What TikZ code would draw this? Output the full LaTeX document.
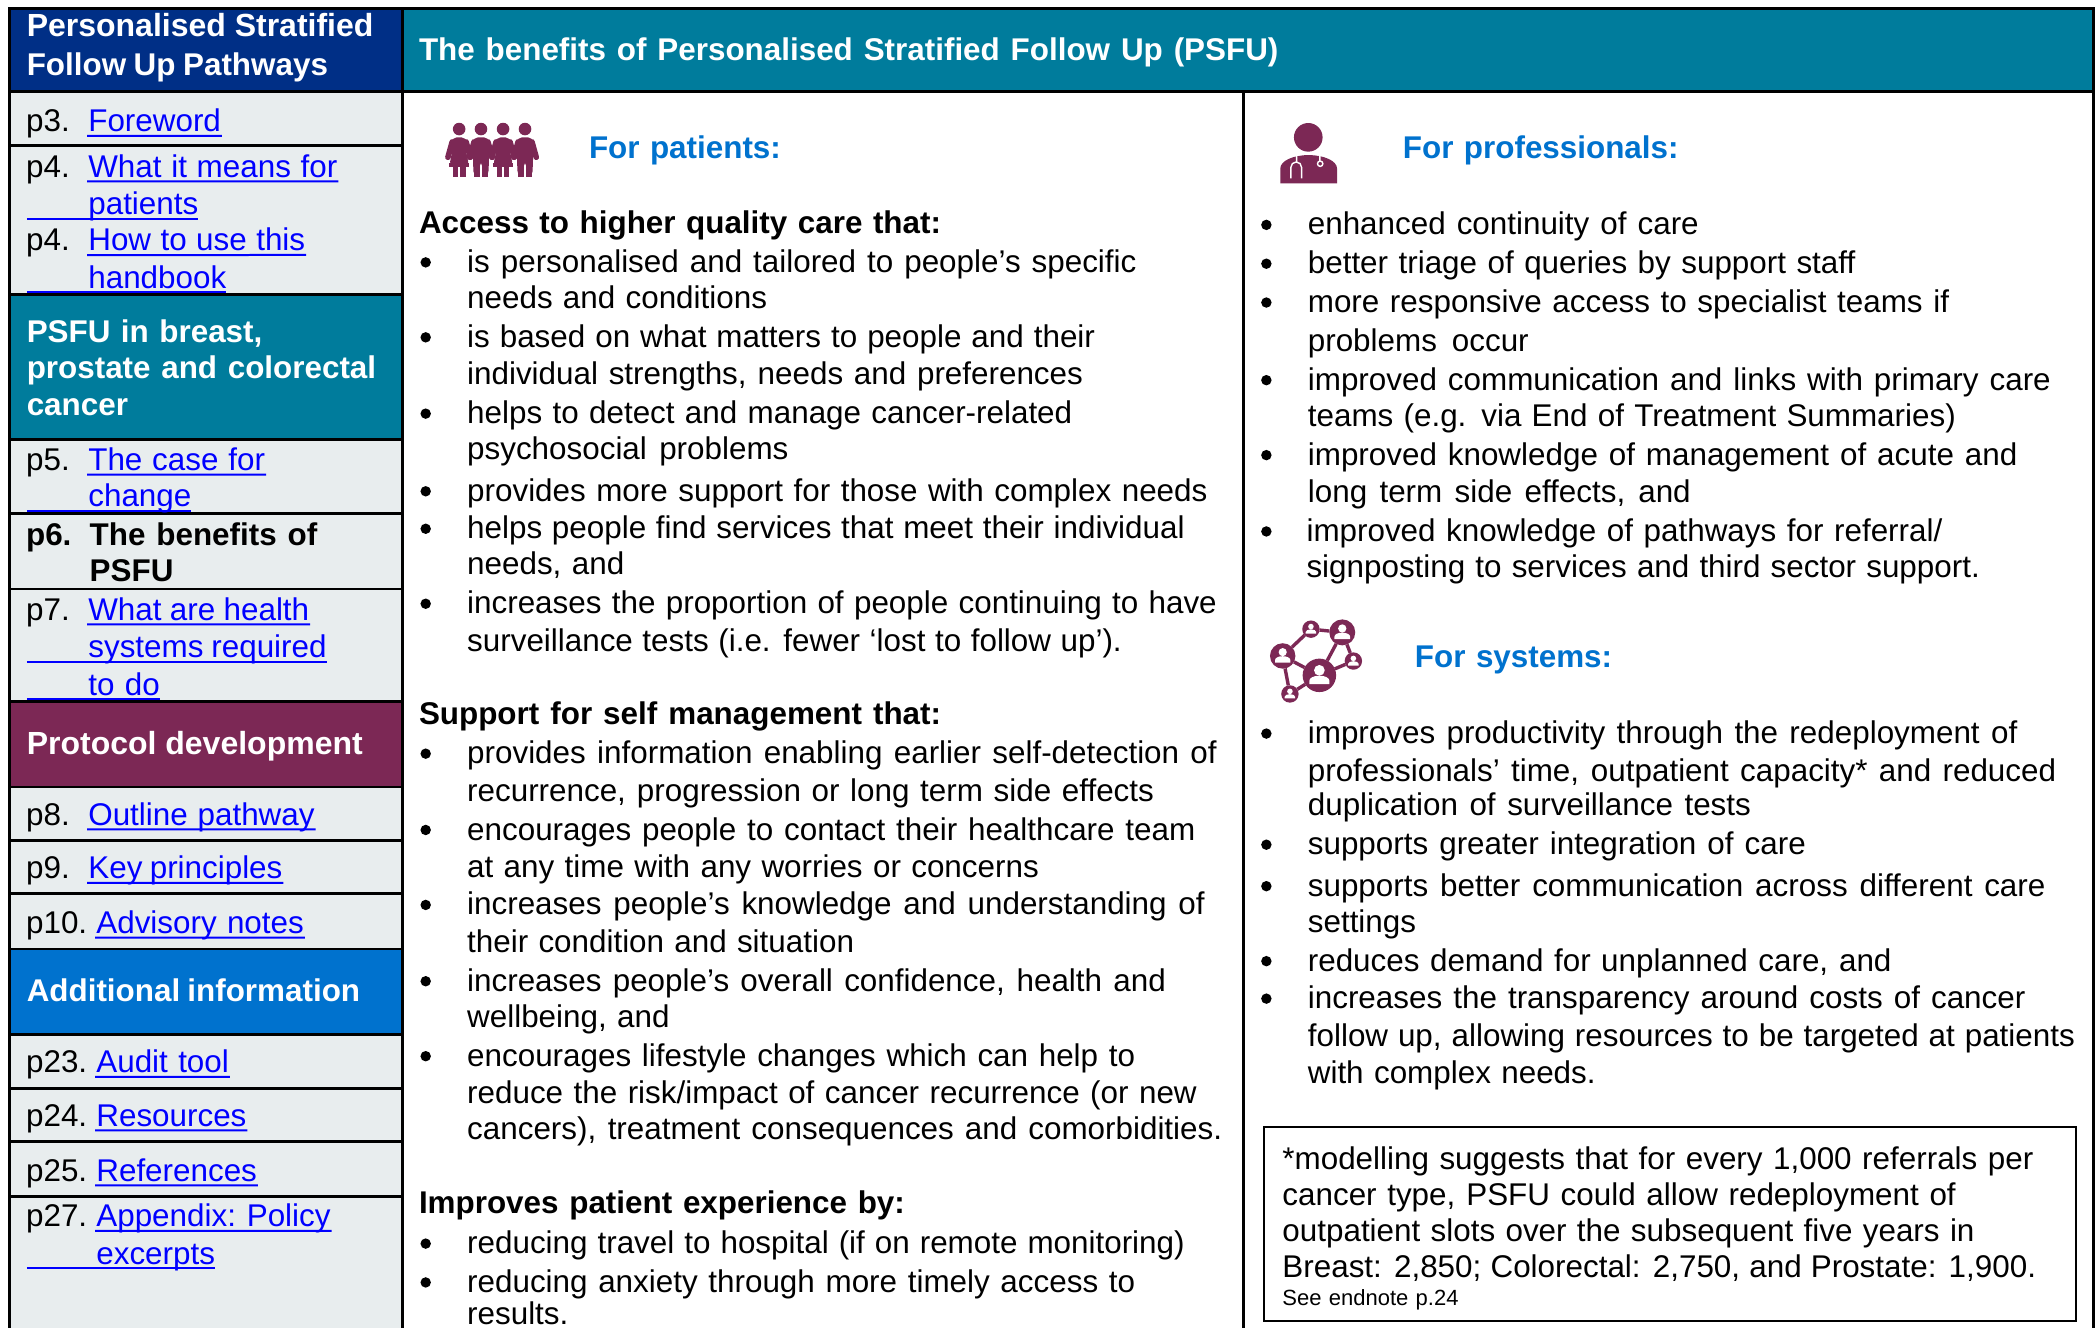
\documentclass[tikz,border=0pt]{standalone}
\usepackage{fontspec}
\setmainfont{Liberation Sans}[WordSpace=1.2]
\definecolor{navy}{HTML}{002F86}
\definecolor{teal}{HTML}{007C9C}
\definecolor{maroon}{HTML}{7C2855}
\definecolor{headblue}{HTML}{0072CE}
\definecolor{side}{HTML}{E8EDEE}
\definecolor{linkblue}{HTML}{0000FF}
\newcounter{tn}
\tikzset{
  txt/.style={anchor=base west,inner sep=0pt,outer sep=0pt,font=\fontsize{15.7}{18}\selectfont,text=black},
  bold/.style={txt,font=\fontsize{15.7}{18}\selectfont\bfseries},
  whead/.style={bold,text=white},
  wheadw/.style={whead,font=\fontsize{16}{18}\selectfont\bfseries},
  bhead/.style={bold,text=headblue},
  linktext/.style={txt,text=linkblue},
  smalltxt/.style={txt,font=\fontsize{11}{12}\selectfont},
  uline/.style={draw=linkblue,line width=1pt},
  rule/.style={draw=black,line width=1.35pt},
  netn/.style={circle,fill=maroon,draw=none,inner sep=0pt,outer sep=0pt},
  netl/.style={draw=maroon,line width=1.7pt},
}
% a line fitted between two x positions by stretching its word spaces
\newcommand\fitb[3]{\pgfmathsetlengthmacro\fitwd{(#2-#1)*0.66935pt}\spaceskip=0.3em plus 1fil minus 1fil\relax\hbox to \fitwd{#3}}
\newcommand\tl[4][txt]{\stepcounter{tn}\node[#1] (t\arabic{tn}) at (#2,#3+8.5) {#4};}
\newcommand\tw[5][txt]{\tl[#1]{#2}{#3}{\fitb{#2}{#4}{#5}}}
\newcommand\bl[2]{\fill (#1,#2+1) circle (3.9);}
% link, underlined from its own start
\newcommand\lk[3]{\stepcounter{tn}\node[linktext] (t\arabic{tn}) at (#1,#2+8.5) {#3};
  \draw[uline] (t\arabic{tn}.base west)+(-1,3) -- ([xshift=0.5pt,yshift=-2pt]t\arabic{tn}.base east);}
% continuation link, underline starts at the tab of the label
\newcommand\lkc[3]{\stepcounter{tn}\node[linktext] (t\arabic{tn}) at (#1,#2+8.5) {#3};
  \coordinate (u\arabic{tn}) at (20,#2+11.5);
  \draw[uline] (u\arabic{tn}) -- (u\arabic{tn}-|t\arabic{tn}.base east);}
\newcommand\netp[3]{\fill[white] (#1,#2-0.3*#3) circle ({0.32*#3});
  \fill[white] (#1-0.6*#3,#2+0.52*#3) -- (#1-0.6*#3,#2+0.32*#3) arc[start angle=180,end angle=360,x radius=0.6*#3,y radius=0.3*#3] -- (#1+0.6*#3,#2+0.52*#3) -- cycle;}
\newcommand\man[1]{
  \fill[maroon] (#1,96.4) circle (4.7);
  \fill[maroon,rounded corners=2.5] (#1-6,102.6) -- (#1+6,102.6) -- (#1+6,120) -- (#1+5.4,132) -- (#1+0.8,132) -- (#1+0.8,120) -- (#1-0.8,120) -- (#1-0.8,132) -- (#1-5.4,132) -- (#1-6,120) -- cycle;
  \fill[maroon] (#1-5.4,120) rectangle (#1-0.8,132); \fill[maroon] (#1+0.8,120) rectangle (#1+5.4,132);
  \draw[maroon,line width=2.8pt,line cap=round] (#1-5.2,106) -- (#1-8.4,117.5);
  \draw[maroon,line width=2.8pt,line cap=round] (#1+5.2,106) -- (#1+8.4,117.5);}
\newcommand\woman[1]{
  \fill[maroon] (#1,96.4) circle (4.7);
  \fill[maroon,rounded corners=2.5] (#1-5.5,102.6) -- (#1+5.5,102.6) -- (#1+5,112) -- (#1+7.5,124.5) -- (#1-7.5,124.5) -- (#1-5,112) -- cycle;
  \fill[maroon] (#1-7.5,122) -- (#1+7.5,122) -- (#1+7.5,124.5) -- (#1-7.5,124.5) -- cycle;
  \fill[maroon] (#1-4.8,124) rectangle (#1-0.9,132); \fill[maroon] (#1+0.9,124) rectangle (#1+4.8,132);
  \draw[maroon,line width=2.8pt,line cap=round] (#1-5.2,106) -- (#1-8.4,117.5);
  \draw[maroon,line width=2.8pt,line cap=round] (#1+5.2,106) -- (#1+8.4,117.5);}
\begin{document}
\begin{tikzpicture}[x=0.66935pt,y=-0.66935pt]
\useasboundingbox (0,0) rectangle (1568,992);
\fill[white] (0,0) rectangle (1568,992);
\clip (0,0) rectangle (1568,992);
% fills
\fill[side] (7.3,68) rectangle (300.8,992);
\fill[navy] (7.3,6.5) rectangle (300.8,68.2);
\fill[teal] (300.8,6.5) rectangle (1564,68.2);
\fill[teal] (7.3,219.9) rectangle (300.8,328.2);
\fill[maroon] (7.3,524) rectangle (300.8,588);
\fill[headblue] (7.3,709) rectangle (300.8,772.8);
% rules
\draw[rule] (7.3,992) -- (7.3,6.5) -- (1564,6.5) -- (1564,992);
\draw[rule] (7.3,68.2) -- (1564,68.2);
\draw[rule] (300.8,6.5) -- (300.8,992);
\draw[rule] (929,68.2) -- (929,992);
\foreach \yy in {108.8,219.9,328.2,383.5,440,524,588,628,667.5,709,772.8,813,852.6,893.7}
  \draw[rule] (7.3,\yy) -- (300.8,\yy);
% sidebar
\tw[wheadw]{20}{19}{279}{Personalised Stratified}
\tw[whead]{20}{48}{245}{Follow Up Pathways}
\tw[whead]{313}{37}{955}{The benefits of Personalised Stratified Follow Up (PSFU)}
\tl{19.5}{90}{p3.}\lk{66}{90}{Foreword}
\tl{19.5}{124}{p4.}\lk{66}{124}{\fitb{66}{252}{What it means for}}
\lkc{66}{152}{patients}
\tl{19.5}{179}{p4.}\lk{66}{179}{\fitb{66}{228}{How to use this}}
\lkc{66}{207}{handbook}
\tw[whead]{20}{247}{196}{PSFU in breast,}
\tw[whead]{20}{274}{281}{prostate and colorectal}
\tl[whead]{20}{302}{cancer}
\tl{19.5}{343}{p5.}\lk{66}{343}{\fitb{66}{198}{The case for}}
\lkc{66}{370}{change}
\tl[bold]{19.5}{399}{p6.}\tw[bold]{67}{399}{237}{The benefits of}
\tl[bold]{67}{426}{PSFU}
\tl{19.5}{455}{p7.}\lk{66}{455}{\fitb{66}{231}{What are health}}
\lkc{66}{483}{\fitb{66}{244}{systems required}}
\lkc{66}{511}{to do}
\tw[wheadw]{20}{555}{271}{Protocol development}
\tl{19.5}{608}{p8.}\lk{66}{608}{\fitb{66}{235}{Outline pathway}}
\tl{19.5}{648}{p9.}\lk{66}{648}{\fitb{66}{211}{Key principles}}
\tl{19.5}{689}{p10.}\lk{72}{689}{\fitb{72}{227}{Advisory notes}}
\tw[whead]{20}{740}{269}{Additional information}
\tl{19.5}{793}{p23.}\lk{72}{793}{\fitb{72}{171}{Audit tool}}
\tl{19.5}{833}{p24.}\lk{72}{833}{Resources}
\tl{19.5}{874}{p25.}\lk{72}{874}{References}
\tl{19.5}{908}{p27.}\lk{72}{908}{\fitb{72}{247}{Appendix: Policy}}
\lkc{72}{936}{excerpts}
% patients column
\woman{343}\man{359.3}\woman{375.8}\man{392.2}
\tl[bhead]{440}{110}{For patients:}
\tw[bold]{313}{166}{703}{Access to higher quality care that:}
\bl{318}{195}\tw{349}{195}{849}{is personalised and tailored to people’s specific}
\tw{349}{222}{573}{needs and conditions}
\bl{318}{251}\tw{349}{251}{818}{is based on what matters to people and their}
\tw{349}{279}{809}{individual strengths, needs and preferences}
\bl{318}{308}\tw{349}{308}{801}{helps to detect and manage cancer-related}
\tw{349}{335}{589}{psychosocial problems}
\bl{318}{366}\tw{349}{366}{902}{provides more support for those with complex needs}
\bl{318}{394}\tw{349}{394}{885}{helps people find services that meet their individual}
\tl{349}{421}{needs, and}
\bl{318}{450}\tw{349}{450}{909}{increases the proportion of people continuing to have}
\tw{349}{478}{838}{surveillance tests (i.e. fewer ‘lost to follow up’).}
\tw[bold]{313}{533}{703}{Support for self management that:}
\bl{318}{562}\tw{349}{562}{909}{provides information enabling earlier self-detection of}
\tw{349}{590}{862}{recurrence, progression or long term side effects}
\bl{318}{619}\tw{349}{619}{893}{encourages people to contact their healthcare team}
\tw{349}{647}{776}{at any time with any worries or concerns}
\bl{318}{675}\tw{349}{675}{900}{increases people’s knowledge and understanding of}
\tw{349}{703}{638}{their condition and situation}
\bl{318}{732}\tw{349}{732}{871}{increases people’s overall confidence, health and}
\tl{349}{759}{wellbeing, and}
\bl{318}{788}\tw{349}{788}{848}{encourages lifestyle changes which can help to}
\tw{349}{816}{894}{reduce the risk/impact of cancer recurrence (or new}
\tw{349}{843}{913}{cancers), treatment consequences and comorbidities.}
\tw[bold]{313}{898}{676}{Improves patient experience by:}
\bl{318}{928}\tw{349}{928}{885}{reducing travel to hospital (if on remote monitoring)}
\bl{318}{957}\tw{349}{957}{848}{reducing anxiety through more timely access to}
\tl{349}{981}{results.}
% professionals column
\fill[maroon] (977.3,102.6) circle (10.7);
\fill[maroon] (956.4,137) -- (956.4,126) .. controls (956.4,120) and (966,116) .. (977.6,115.8) .. controls (989,116) and (998.8,120) .. (998.8,126) -- (998.8,137) -- cycle;
\draw[white,line width=0.7pt] (968.6,116.5) -- (968.6,121) (964.3,133.2) -- (964.3,125) arc[start angle=180,end angle=360,radius=4] -- (972.3,133.2);
\draw[white,line width=0.7pt] (986,116.5) -- (986,120.3) (986.2,122.3) circle (2);
\tl[bhead]{1048}{110}{For professionals:}
\bl{946}{167}\tw{977}{167}{1269}{enhanced continuity of care}
\bl{946}{196}\tw{977}{196}{1386}{better triage of queries by support staff}
\bl{946}{225}\tw{977}{225}{1456}{more responsive access to specialist teams if}
\tw{977}{254}{1142}{problems occur}
\bl{946}{283}\tw{977}{283}{1532}{improved communication and links with primary care}
\tw{977}{310}{1461}{teams (e.g. via End of Treatment Summaries)}
\bl{946}{339}\tw{977}{339}{1507}{improved knowledge of management of acute and}
\tw{977}{367}{1263}{long term side effects, and}
\bl{946}{396}\tw{976}{396}{1451}{improved knowledge of pathways for referral/}
\tw{976}{423}{1479}{signposting to services and third sector support.}
% systems icon
\node[netn,minimum size=19pt*0.66935] (na) at (958.2,490) {};
\node[netn,minimum size=13pt*0.66935] (nb) at (979.3,470) {};
\node[netn,minimum size=19.4pt*0.66935] (nc) at (1002.7,472.4) {};
\node[netn,minimum size=13pt*0.66935] (nd) at (1011,493.8) {};
\node[netn,minimum size=25pt*0.66935] (ne) at (985.6,504.5) {};
\node[netn,minimum size=13pt*0.66935] (nf) at (963.6,518.4) {};
\draw[netl] (na)--(nb) (nb)--(nc) (nc)--(ne) (nc)--(nd) (nd)--(ne) (ne)--(na) (na)--(nf) (nf)--(ne);
\netp{958.2}{490}{9.5}\netp{979.3}{470}{6.5}\netp{1002.7}{472.4}{9.7}\netp{1011}{493.8}{6.5}\netp{985.6}{504.5}{12.5}\netp{963.6}{518.4}{6.5}
\tl[bhead]{1057}{490}{For systems:}
\bl{946}{547}\tw{977}{547}{1507}{improves productivity through the redeployment of}
\tw{977}{575}{1536}{professionals’ time, outpatient capacity* and reduced}
\tw{977}{601}{1308}{duplication of surveillance tests}
\bl{946}{630}\tw{977}{630}{1349}{supports greater integration of care}
\bl{946}{661}\tw{977}{661}{1528}{supports better communication across different care}
\tl{977}{688}{settings}
\bl{946}{717}\tw{977}{717}{1413}{reduces demand for unplanned care, and}
\bl{946}{745}\tw{977}{745}{1513}{increases the transparency around costs of cancer}
\tw{977}{773}{1550}{follow up, allowing resources to be targeted at patients}
\tw{977}{801}{1192}{with complex needs.}
% note box
\draw[black,line width=1pt] (944,842) rectangle (1551,987);
\tw{958}{865}{1519}{*modelling suggests that for every 1,000 referrals per}
\tw{958}{892}{1461}{cancer type, PSFU could allow redeployment of}
\tw{958}{919}{1475}{outpatient slots over the subsequent five years in}
\tw{958}{946}{1521}{Breast: 2,850; Colorectal: 2,750, and Prostate: 1,900.}
\tl[smalltxt]{958}{967}{See endnote p.24}
\end{tikzpicture}
\end{document}
